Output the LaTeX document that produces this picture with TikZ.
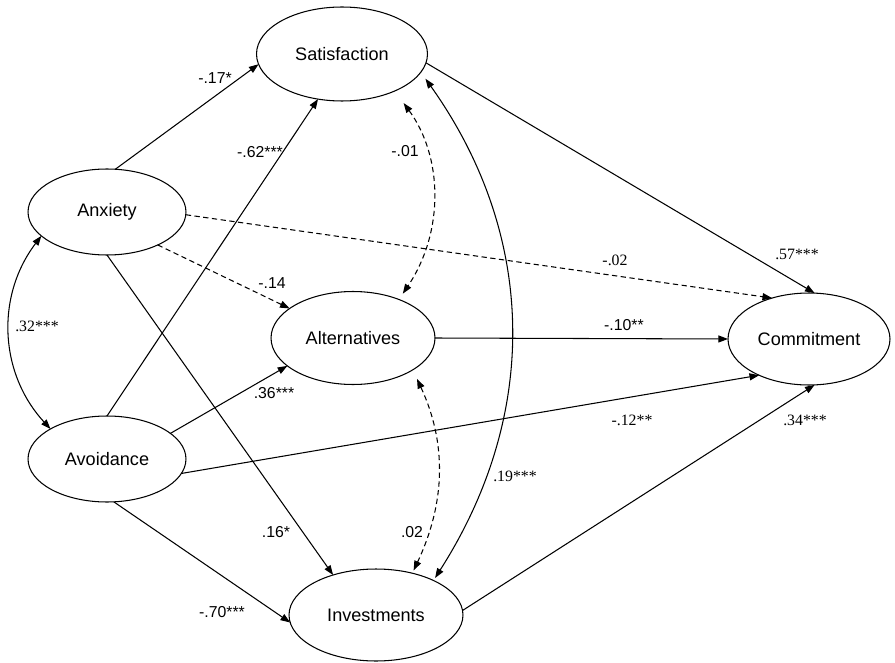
\documentclass[tikz,border=0pt]{standalone}
\usepackage{fontspec}
\setmainfont{Liberation Sans}
\newfontfamily\timesnum{Liberation Serif}
\usetikzlibrary{shapes.geometric, arrows.meta}

\begin{document}
\begin{tikzpicture}[
    x=0.02cm, y=-0.02cm,
    latent/.style={draw, ellipse, inner sep=0pt, outer sep=0pt, line width=0.6pt, font=\fontsize{10.3}{12}\selectfont},
    arrow/.style={-{Triangle[length=5.5pt, width=4pt]}, line width=0.6pt},
    twoway/.style={{Triangle[length=5.5pt, width=4pt]}-{Triangle[length=5.5pt, width=4pt]}, line width=0.6pt},
    dashedline/.style={dash pattern=on 3pt off 2pt},
    coef/.style={inner sep=1pt, font=\fontsize{9}{10}\selectfont},
    coefserif/.style={inner sep=1pt, font=\timesnum\fontsize{9}{10}\selectfont}
]
\useasboundingbox (0,0) rectangle (895,662);

% latent variables
\node (sat) [latent, minimum width=3.42cm, minimum height=1.88cm] at (342,54) {Satisfaction};
\node (anx) [latent, minimum width=3.16cm, minimum height=1.72cm] at (107,212) {Anxiety};
\node (avo) [latent, minimum width=3.16cm, minimum height=1.72cm] at (107,459) {Avoidance};
\node (alt) [latent, minimum width=3.28cm, minimum height=1.86cm] at (353,338) {Alternatives};
\node (inv) [latent, minimum width=3.48cm, minimum height=1.84cm] at (376,615) {Investments};
\node (com) [latent, minimum width=3.24cm, minimum height=1.84cm] at (809,339) {Commitment};

% paths
\draw[arrow] (anx.79) -- (sat.187);
\draw[arrow] (avo.north) -- (sat.242);
\draw[arrow, dashedline] (anx.-33) -- (alt.155);
\draw[arrow, dashedline] (anx.-2) -- (com.132);
\draw[arrow] (sat.-6) -- (com.83);
\draw[arrow] (alt.east) -- (com.west);
\draw[arrow] (avo.22) -- (alt.203);
\draw[arrow] (avo.-11) -- (com.216);
\draw[arrow] (anx.south) -- (inv.137);
\draw[arrow] (avo.-81) -- (inv.185);
\draw[arrow] (inv.3) -- (com.-83);

% covariances
\draw[twoway] (anx.200) to[bend right=40] (avo.152);
\draw[twoway, dashedline, shorten <=0.3cm, shorten >=0.14cm] (sat.-35) to[bend left=35] (alt.40);
\draw[twoway, dashedline, shorten <=0.2cm, shorten >=0.06cm] (alt.-28) to[bend left=25] (inv.49);
\draw[twoway, shorten <=0.16cm, shorten >=0.06cm] (sat.-13) to[bend left=34] (inv.31);

% coefficients
\node (cAnxSat) [coef] at (215,78) {-.17*};
\node (cAvoSat) [coef] at (260,152) {-.62***};
\node (cSatAlt) [coef] at (405,151) {-.01};
\node (cAnxAlt) [coef] at (272,283) {-.14};
\node (cAnxCom) [coefserif] at (615,260) {-.02};
\node (cSatCom) [coefserif] at (797,254) {.57***};
\node (cAnxAvo) [coefserif] at (37,326) {.32***};
\node (cAltCom) [coef] at (624,325) {-.10**};
\node (cAvoAlt) [coef] at (274,393) {.36***};
\node (cAvoCom) [coefserif] at (632,420) {-.12**};
\node (cSatInv) [coefserif] at (515,476) {.19***};
\node (cInvCom) [coefserif] at (805,420) {.34***};
\node (cAnxInv) [coef] at (276,532) {.16*};
\node (cAltInv) [coef] at (412,532) {.02};
\node (cAvoInv) [coef] at (222,612) {-.70***};
\end{tikzpicture}
\end{document}
